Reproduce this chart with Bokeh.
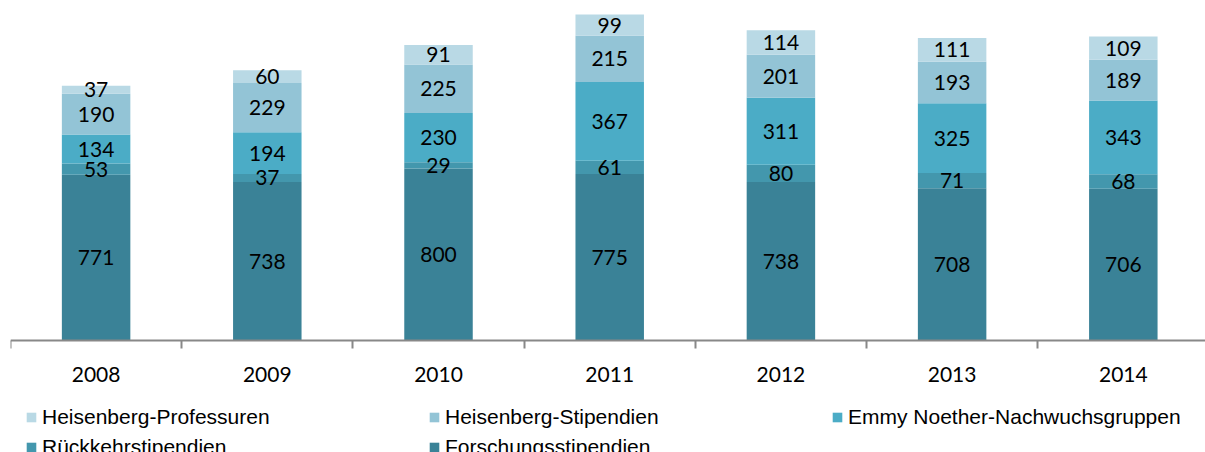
import numpy as np
from bokeh.plotting import figure
from bokeh.models import (ColumnDataSource, Range1d, FixedTicker, Legend, LegendItem, LinearAxis)
from bokeh.core.properties import value
from bokeh.embed import file_html
from bokeh.resources import INLINE

years = ["2008", "2009", "2010", "2011", "2012", "2013", "2014"]
forschung = [771, 738, 800, 775, 738, 708, 706]
rueckkehr = [53, 37, 29, 61, 80, 71, 68]
emmy = [134, 194, 230, 367, 311, 325, 343]
heis_stip = [190, 229, 225, 215, 201, 193, 189]
heis_prof = [37, 60, 91, 99, 114, 111, 109]

series_names = ["Forschungsstipendien", "Rückkehrstipendien", "Emmy Noether-Nachwuchsgruppen",
                "Heisenberg-Stipendien", "Heisenberg-Professuren"]
series_vals = [forschung, rueckkehr, emmy, heis_stip, heis_prof]
colors = ["#3A8297", "#4397AD", "#4BACC6", "#93C4D6", "#B9D9E5"]
keys = ["s0", "s1", "s2", "s3", "s4"]

xs = list(range(len(years)))
data = {"x": xs}
for k, v in zip(keys, series_vals):
    data[k] = v
source = ColumnDataSource(data)

p = figure(width=1205, height=452, output_backend="svg", toolbar_location=None,
           x_range=Range1d(-0.5, 6.48), y_range=Range1d(-521, 1582),
           x_axis_location=None, y_axis_location=None,
           min_border_left=10, min_border_right=0, min_border_top=0, min_border_bottom=0)
p.background_fill_color = "white"
p.border_fill_color = "white"
p.outline_line_color = None
p.xgrid.visible = False
p.ygrid.visible = False

renderers = p.vbar_stack(keys, x="x", width=0.4, color=colors, source=source, line_color=None)

# data labels at segment midpoints
arr = np.array(series_vals, dtype=float)
cum = np.cumsum(arr, axis=0)
mids = cum - arr / 2.0
lx, ly, lt = [], [], []
for i in range(arr.shape[0]):
    for j in range(arr.shape[1]):
        lx.append(xs[j]); ly.append(mids[i, j]); lt.append(str(int(arr[i, j])))
p.text(x=lx, y=ly, text=lt, text_align="center", text_baseline="middle",
       text_font=value("Lato"), text_font_size="21px", text_color="#000000")

ax = LinearAxis(fixed_location=0)
ax.ticker = FixedTicker(ticks=xs, minor_ticks=[i - 0.5 for i in range(len(years) + 1)])
ax.major_label_overrides = {i: y for i, y in zip(xs, years)}
ax.major_tick_out = 0
ax.major_tick_in = 0
ax.minor_tick_out = 8
ax.minor_tick_in = 0
ax.minor_tick_line_color = "#888888"
ax.minor_tick_line_width = 2
ax.axis_line_color = "#888888"
ax.axis_line_width = 2
ax.major_label_standoff = 18
ax.major_label_text_font = "Lato"
ax.major_label_text_font_size = "21px"
ax.major_label_text_color = "#000000"
p.add_layout(ax, "below")

order = [4, 3, 2, 1, 0]
items = [LegendItem(label=series_names[i], renderers=[renderers[i]]) for i in order]
legend = Legend(items=items, location=(15, -7), orientation="horizontal", ncols=3,
                glyph_width=12, glyph_height=12, label_standoff=5, label_width=380,
                label_height=24, spacing=6, padding=0, margin=0,
                label_text_font="Liberation Sans", label_text_font_size="21px",
                label_text_color="#000000", background_fill_alpha=0, border_line_color=None)
p.add_layout(legend, "center")

open("out.html", "w").write(file_html(p, INLINE))
